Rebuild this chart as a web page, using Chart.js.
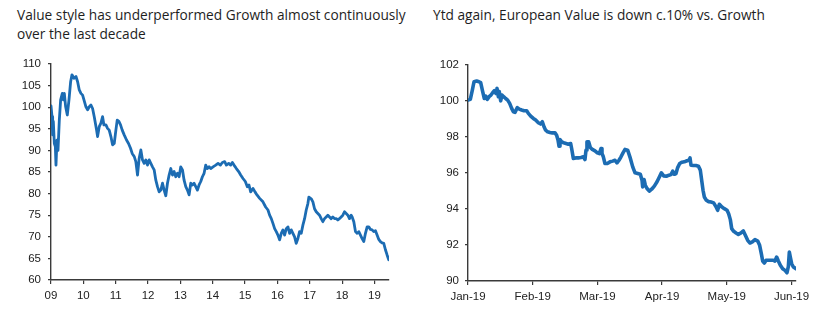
<!DOCTYPE html>
<html>
<head>
<meta charset="utf-8">
<script src="https://cdn.jsdelivr.net/npm/chart.js@4/dist/chart.umd.min.js"></script>
<style>
  html, body { margin: 0; padding: 0; background: #fff; }
  #wrap { position: relative; width: 830px; height: 331px; overflow: hidden; }
  .title {
    position: absolute; font-family: "Open Sans", "Noto Sans", sans-serif;
    font-size: 13.7px; line-height: 19px; color: #1e1e1e; white-space: nowrap;
  }
  canvas { position: absolute; top: 0; }
</style>
</head>
<body>
<div id="wrap">
  <div class="title" style="left:17px; top:5px;">Value style has underperformed Growth almost continuously<br>over the last decade</div>
  <div class="title" style="left:433px; top:5px;">Ytd again, European Value is down c.10% vs. Growth</div>
  <div style="position:absolute;left:0;top:0;width:415px;height:331px;"><canvas id="decade"></canvas></div>
  <div style="position:absolute;left:415px;top:0;width:415px;height:331px;"><canvas id="ytd"></canvas></div>
</div>
<script>
// Value vs Growth relative index, 2009 onwards (x = years since start of 2009)
const decadeYears = [
  0,0.031,0.051,0.072,0.103,0.134,0.154,0.185,0.216,0.257,
  0.298,0.350,0.381,0.412,0.453,0.504,0.556,0.607,0.648,0.710,
  0.772,0.823,0.874,0.926,0.977,1.019,1.080,1.132,1.183,1.235,
  1.286,1.337,1.409,1.440,1.492,1.543,1.595,1.636,1.698,1.749,
  1.800,1.852,1.903,1.955,2.006,2.047,2.099,2.150,2.202,2.263,
  2.335,2.397,2.459,2.510,2.572,2.623,2.675,2.726,2.778,2.829,
  2.881,2.932,2.984,3.035,3.086,3.138,3.189,3.241,3.292,3.344,
  3.395,3.447,3.498,3.549,3.601,3.652,3.704,3.755,3.807,3.858,
  3.909,3.961,4.012,4.064,4.115,4.167,4.218,4.270,4.321,4.372,
  4.424,4.475,4.527,4.578,4.630,4.681,4.733,4.784,4.835,4.887,
  4.938,5.010,5.093,5.165,5.237,5.298,5.370,5.422,5.494,5.556,
  5.607,5.658,5.731,5.802,5.864,5.936,6.008,6.070,6.121,6.173,
  6.245,6.307,6.368,6.451,
  6.553,6.636,6.708,6.759,6.811,6.862,6.914,6.965,7.016,7.068,
  7.119,7.171,7.222,7.274,7.325,7.377,7.428,7.479,7.531,7.582,
  7.634,7.685,7.737,7.788,7.840,7.891,7.942,7.973,8.045,8.097,
  8.148,8.200,8.251,8.302,8.354,8.405,8.457,8.508,8.560,8.611,
  8.663,8.714,8.765,8.817,8.868,8.920,8.971,9.023,9.074,9.126,
  9.177,9.228,9.280,9.311,9.362,9.414,9.465,9.516,9.568,9.619,
  9.671,9.722,9.774,9.825,9.877,9.928,9.979,10.031,10.082,10.134,
  10.185,10.237,10.288,10.340,10.391,10.442
];
const decadeValues = [
  100.3,97.8,93.6,96.7,91.6,90.9,86.6,92.4,90.0,97.0,
  101.7,103.2,101.7,103.2,100.1,98.2,101.7,105.9,107.5,106.7,
  107.1,105.9,104.0,103.2,102.8,101.7,100.1,99.4,100.1,100.5,
  99.7,97.8,94.7,93.2,95.5,96.3,97.8,95.9,95.9,95.1,
  94.7,93.2,91.3,91.6,94.7,97.0,96.7,95.9,94.7,93.6,
  92.4,91.6,90.5,89.3,88.6,87.4,84.3,88.2,90.1,87.8,
  87.0,87.8,86.6,87.8,87.0,86.2,85.5,83.1,81.6,80.4,
  80.8,82.4,80.8,79.5,82.4,84.3,85.8,84.3,85.1,83.9,
  84.7,83.9,86.2,85.5,83.1,81.6,80.8,79.7,82.4,82.0,
  82.4,81.6,80.8,82.0,82.8,83.9,84.7,86.6,85.8,86.2,
  85.8,86.2,86.6,87.0,86.6,87.2,87.4,86.6,87.0,86.6,
  87.2,86.6,85.8,85.1,84.3,83.5,82.8,81.6,82.0,80.4,
  81.2,80.4,79.7,78.9,
  78.1,76.9,76.2,75.0,74.2,73.1,71.9,71.2,70.4,69.3,
  70.8,71.6,70.4,71.9,72.3,70.8,71.6,70.8,70.0,68.5,
  69.6,71.2,70.8,72.7,74.2,76.2,77.7,79.2,78.8,78.1,
  76.5,75.8,75.4,75.0,74.2,73.5,74.2,74.6,75.0,74.6,
  74.2,74.6,74.2,74.2,73.9,74.2,74.6,75.0,75.8,75.4,
  75.0,74.2,75.0,74.6,73.5,71.2,70.8,71.2,70.4,69.6,
  68.9,70.8,72.3,72.3,71.7,71.6,71.2,71.4,70.4,69.4,
  68.9,68.6,68.5,67.0,65.8,64.7
];
const decadeTickLabels = ['09','10','11','12','13','14','15','16','17','18','19'];

// European Value vs Growth, year to date (x = months since 1 Jan 2019)
const ytdMonths = [
  0,0.036,0.067,0.093,0.134,0.170,0.196,0.227,0.252,0.273,
  0.299,0.325,0.355,0.381,0.407,0.433,0.448,0.469,0.484,0.505,
  0.525,0.551,0.582,0.613,0.644,0.675,0.701,0.726,0.762,0.793,
  0.829,0.866,0.907,0.933,0.969,1.010,1.046,1.087,1.123,1.149,
  1.175,1.200,1.231,1.267,1.303,1.345,1.370,1.391,1.407,1.422,
  1.448,1.479,1.515,1.551,1.587,1.602,1.628,1.664,1.705,1.747,
  1.783,1.808,1.824,1.839,1.865,1.891,1.922,1.963,1.999,2.030,
  2.056,2.071,2.092,2.117,2.154,2.195,2.236,2.272,2.303,2.334,
  2.365,2.396,2.427,
  2.468,2.510,2.546,2.582,2.623,2.664,2.690,2.700,2.721,2.741,
  2.767,2.803,2.839,2.880,2.922,2.958,2.989,3.025,3.066,3.107,
  3.138,3.164,3.190,3.215,3.241,3.272,3.308,3.344,3.385,3.416,
  3.432,3.447,3.483,3.524,3.561,3.591,3.612,3.633,3.653,3.684,
  3.720,3.756,3.797,3.834,3.859,3.885,3.921,3.962,4.004,4.029,
  4.055,4.076,4.107,4.143,4.179,4.220,4.256,4.287,4.323,4.359,
  4.395,4.436,4.478,4.508,4.534,4.555,4.581,4.606,4.643,4.684,
  4.720,4.745,4.771,4.797,4.828,4.864,4.900,4.931,4.952,4.967,
  4.982,5.003,5.029,5.070
];
const ytdValues = [
  100.05,100.09,100.61,101.07,101.11,101.07,101.02,100.52,100.14,100.27,
  100.09,100.24,100.33,100.46,100.57,100.42,100.70,100.24,100.52,100.01,
  100.33,100.24,100.14,100.05,99.87,99.59,99.40,99.37,99.63,99.55,
  99.50,99.46,99.46,99.31,99.16,99.03,98.94,98.79,98.72,98.85,
  98.57,98.38,98.29,98.25,98.23,98.23,98.10,97.83,97.49,97.86,
  97.73,97.68,97.64,97.60,97.64,97.36,96.81,96.84,96.84,96.86,
  96.90,96.75,97.27,97.73,97.73,97.42,97.31,97.23,97.12,97.08,
  97.36,97.08,96.90,96.53,96.53,96.62,96.66,96.71,96.56,96.71,
  96.90,97.12,97.31,
  97.27,96.81,96.34,96.01,95.97,95.93,95.60,95.23,95.64,95.32,
  95.14,94.99,95.10,95.27,95.51,95.78,96.01,95.84,95.82,95.88,
  95.91,96.10,95.93,95.97,96.30,96.53,96.60,96.62,96.68,96.71,
  96.84,96.43,96.42,96.42,96.38,96.16,95.60,95.04,94.67,94.49,
  94.41,94.39,94.34,94.12,93.93,94.26,94.12,94.02,93.93,93.74,
  93.41,92.91,92.76,92.67,92.59,92.67,92.78,92.54,92.26,92.11,
  92.17,92.30,92.22,91.98,91.52,91.11,91.00,91.15,91.15,91.15,
  91.15,91.11,91.33,91.11,90.87,90.68,90.59,90.46,90.81,91.61,
  91.33,90.96,90.78,90.68
];
const ytdTickLabels = ['Jan-19','Feb-19','Mar-19','Apr-19','May-19','Jun-19'];

const LINE_BLUE = '#1c6cb3';
const AXIS_GREY = '#3a3a3a';
const TICK_FONT = { family: '"Liberation Sans Narrow", "Arial Narrow", "Liberation Sans", Arial, sans-serif', size: 11.5 };

function points(xs, ys) {
  const n = Math.min(xs.length, ys.length);
  const out = [];
  for (let i = 0; i < n; i++) out.push({ x: xs[i], y: ys[i] });
  return out;
}

// one tick per label, at whole units (years / months)
function ticksForLabels(labels) {
  return scale => { scale.ticks = labels.map((_, i) => ({ value: i })); };
}

function makeChart(id, cfg) {
  return new Chart(document.getElementById(id), {
    type: 'line',
    data: {
      datasets: [{
        data: points(cfg.xs, cfg.ys),
        borderColor: LINE_BLUE,
        borderWidth: cfg.lineWidth,
        pointRadius: 0,
        tension: 0,
        fill: false,
        borderJoinStyle: 'round',
        borderCapStyle: 'round'
      }]
    },
    options: {
      responsive: true,
      maintainAspectRatio: false,
      animation: false,
      events: [],
      layout: { padding: cfg.padding },
      plugins: { legend: { display: false }, tooltip: { enabled: false }, title: { display: false } },
      scales: {
        x: {
          type: 'linear',
          min: 0,
          max: cfg.xMax,
          afterBuildTicks: ticksForLabels(cfg.xLabels),
          afterFit: s => { s.height = 30; },
          border: { color: AXIS_GREY, width: 1.4 },
          grid: { drawOnChartArea: false, drawTicks: true, tickLength: 4, color: AXIS_GREY, lineWidth: 1.2 },
          ticks: {
            autoSkip: false,
            maxRotation: 0,
            padding: 5,
            color: '#222',
            font: TICK_FONT,
            callback: v => cfg.xLabels[Math.round(v)] ?? ''
          }
        },
        y: {
          min: cfg.yMin,
          max: cfg.yMax,
          afterFit: s => { s.width = 40; },
          border: { color: AXIS_GREY, width: 1.4 },
          grid: { drawOnChartArea: false, drawTicks: true, tickLength: 3, color: AXIS_GREY, lineWidth: 1.2 },
          ticks: {
            stepSize: cfg.yStep,
            padding: cfg.yPad,
            color: '#222',
            font: TICK_FONT
          }
        }
      }
    }
  });
}

makeChart('decade', {
  xs: decadeYears, ys: decadeValues, xLabels: decadeTickLabels,
  xMax: 10.45, yMin: 60, yMax: 110, yStep: 5, yPad: 7, lineWidth: 2.8,
  padding: { left: 11, top: 64, right: 26, bottom: 21 }
});

makeChart('ytd', {
  xs: ytdMonths, ys: ytdValues, xLabels: ytdTickLabels,
  xMax: 5.07, yMin: 90, yMax: 102, yStep: 2, yPad: 6, lineWidth: 3.6,
  padding: { left: 13, top: 65, right: 34, bottom: 20 }
});
</script>
</body>
</html>
